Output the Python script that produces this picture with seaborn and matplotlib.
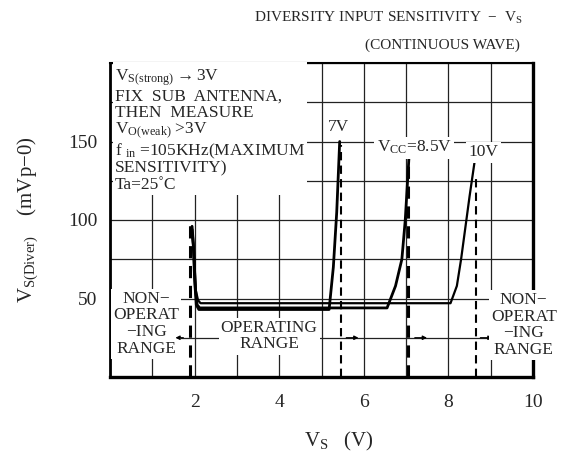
import numpy as np
import pandas as pd
import seaborn as sns
import matplotlib.pyplot as plt

# curves (Vs in volts, sensitivity in mVp-0)
vs_7v = [1.94, 1.97, 2.0, 2.04, 2.1, 5.18, 5.28, 5.36, 5.43]
sens_7v = [96, 85, 62, 46, 43, 43, 70, 105, 150]

vs_85v = [1.94, 1.98, 2.02, 2.06, 2.12, 6.55, 6.75, 6.9, 6.98, 7.07]
sens_85v = [94, 80, 56, 46, 44, 44, 58, 75, 100, 141]

vs_10v = [1.95, 1.99, 2.03, 2.08, 2.14, 8.05, 8.2, 8.3, 8.4, 8.5, 8.64]
sens_10v = [90, 75, 55, 49, 47, 47, 58, 75, 95, 115, 141]

# dashed limit lines (x position, top value, line width)
limit_x = [1.9, 5.45, 7.05, 8.65]
limit_top = [97, 148, 140, 128]
limit_lw = [2.2, 1.5, 2.2, 1.5]

curves = pd.concat([
    pd.DataFrame({"Vs": vs_7v, "sens": sens_7v, "vcc": "7V"}),
    pd.DataFrame({"Vs": vs_85v, "sens": sens_85v, "vcc": "8.5V"}),
    pd.DataFrame({"Vs": vs_10v, "sens": sens_10v, "vcc": "10V"}),
])

sns.set_style("white")
plt.rcParams["font.family"] = ["Liberation Serif", "DejaVu Serif"]
plt.rcParams["mathtext.fontset"] = "custom"
plt.rcParams["mathtext.rm"] = "Liberation Serif"
plt.rcParams["mathtext.it"] = "Liberation Serif"

fig = plt.figure(figsize=(5.64, 4.62), dpi=100)
ax = fig.add_axes([110 / 564, 1 - 377 / 462, 423 / 564, 314 / 462])

# grid every 1 V and 25 mV
ax.set_xlim(0, 10)
ax.set_ylim(0, 200)
ax.set_xticks(np.arange(0, 11, 1), minor=True)
ax.set_yticks(np.arange(0, 201, 25), minor=True)
ax.grid(which="both", color="#222222", linewidth=0.9)
ax.set_axisbelow(True)

lw_map = {"7V": 2.0, "8.5V": 2.0, "10V": 1.6}
for name, d in curves.groupby("vcc", sort=False):
    sns.lineplot(data=d, x="Vs", y="sens", color="black", sort=False,
                 estimator=None, linewidth=lw_map[name], ax=ax, zorder=3)

for x, top, lw in zip(limit_x, limit_top, limit_lw):
    ax.plot([x, x], [0, top], color="black", linewidth=lw,
            linestyle=(0, (4, 2.5)), zorder=3)

ax.set_xticks([2, 4, 6, 8, 10])
ax.set_xticklabels(["2", "4", "6", "8", "10"], fontsize=14)
ax.set_yticks([50, 100, 150])
ax.set_yticklabels(["50", "100", "150"], fontsize=14)
ax.tick_params(axis="x", which="both", length=0, pad=12)
ax.tick_params(axis="y", which="both", length=0, pad=9)
ax.set_xlabel(r"V$_{\mathrm{S}}$   (V)", fontsize=15, labelpad=14)
ax.xaxis.label.set_x(0.54)
ax.set_ylabel(r"V$_{\mathrm{S(Diver)}}$    (mVp$-$0)", fontsize=15, labelpad=20)

for side, lw in {"left": 2, "bottom": 2.4, "top": 1.5, "right": 2.4}.items():
    ax.spines[side].set_color("black")
    ax.spines[side].set_linewidth(lw)
    ax.spines[side].set_zorder(2)

fs = 12.5
white = dict(facecolor="white", edgecolor="none", pad=1.5)
ax.text(0.12, 197,
        "V$_{\\mathrm{S(strong)}}$$\\rightarrow$3V\nFIX  SUB  ANTENNA,\nTHEN  MEASURE\n"
        "V$_{\\mathrm{O(weak)}}$ >3V\nf $_{\\mathrm{in}}$ =105KHz(MAXIMUM\nSENSITIVITY)\nTa=25˚C",
        fontsize=fs, va="top", ha="left", linespacing=1.02, bbox=white, zorder=4)

ax.text(5.41, 159, "7V", fontsize=fs, ha="center", va="center", bbox=white, zorder=4)
ax.text(7.19, 146, "V$_{\\mathrm{CC}}$=8.5V", fontsize=fs, ha="center", va="center",
        bbox=white, zorder=4)
ax.text(8.83, 143, "10V", fontsize=fs, ha="center", va="center", bbox=white, zorder=4)

ax.text(0.86, 34, "NON−\nOPERAT\n−ING\nRANGE", fontsize=fs, ha="center", va="center",
        linespacing=1.05, bbox=white, zorder=4)
ax.text(3.76, 26, "OPERATING\nRANGE", fontsize=fs, ha="center", va="center",
        linespacing=1.05, bbox=white, zorder=4)
ax.text(9.78, 33, "NON−\nOPERAT\n−ING\nRANGE", fontsize=fs, ha="center", va="center",
        linespacing=1.05, bbox=white, zorder=6, clip_on=False)

arrow = dict(arrowstyle="-|>", color="black", lw=0.9, mutation_scale=6)
ax.annotate("", xy=(1.48, 25), xytext=(1.8, 25), arrowprops=arrow, zorder=5)
for x0 in [5.52, 7.14, 8.69]:
    ax.annotate("", xy=(x0 + 0.42, 25), xytext=(x0, 25), arrowprops=arrow, zorder=5)

fig.text(522 / 564, 1 - 18 / 462, "DIVERSITY INPUT SENSITIVITY  $-$  V$_{\\mathrm{S}}$",
         fontsize=11, ha="right", va="center")
fig.text(520 / 564, 1 - 45 / 462, "(CONTINUOUS WAVE)", fontsize=11, ha="right", va="center")

fig.savefig("out.png", dpi=100, facecolor="white")
